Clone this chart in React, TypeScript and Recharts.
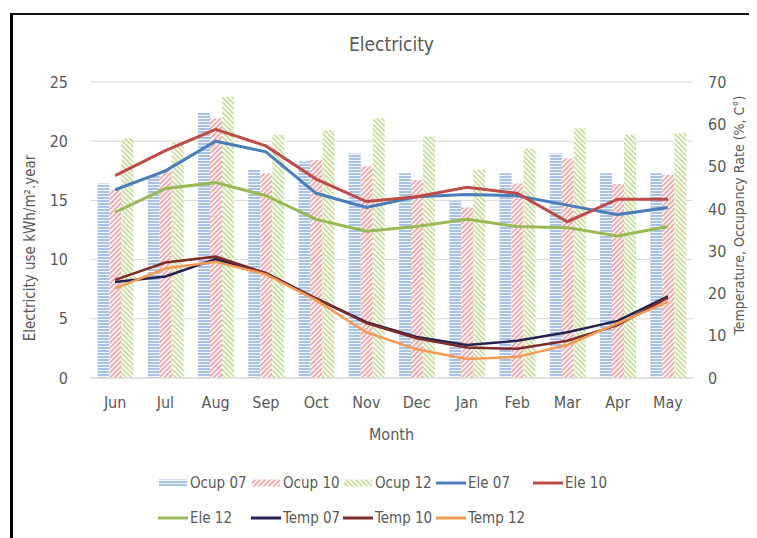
import React from "react";
import { ComposedChart, Bar, Line, XAxis, YAxis, CartesianGrid, Legend } from "recharts";

const months = ["Jun", "Jul", "Aug", "Sep", "Oct", "Nov", "Dec", "Jan", "Feb", "Mar", "Apr", "May"];

// occupancy rate (%), right axis
const ocup07 = [46.0, 48.0, 62.7, 49.2, 51.2, 53.1, 48.4, 42.0, 48.4, 53.1, 48.4, 48.4];
const ocup10 = [44.5, 49.3, 61.4, 48.4, 51.5, 50.1, 46.8, 40.3, 46.0, 51.9, 45.9, 48.0];
const ocup12 = [56.7, 55.8, 66.5, 57.5, 58.6, 61.4, 57.1, 49.3, 54.3, 59.0, 57.5, 57.9];

// electricity use (kWh/m².year), left axis
const ele07 = [15.9, 17.5, 20.0, 19.1, 15.6, 14.4, 15.3, 15.5, 15.4, 14.6, 13.8, 14.4];
const ele10 = [17.1, 19.2, 21.0, 19.6, 16.8, 14.9, 15.3, 16.1, 15.6, 13.2, 15.1, 15.1];
const ele12 = [14.0, 16.0, 16.5, 15.4, 13.4, 12.4, 12.8, 13.4, 12.8, 12.7, 12.0, 12.8];

// temperature (°C), right axis
const temp07 = [22.7, 24.0, 28.1, 24.8, 18.8, 13.2, 9.7, 7.8, 8.8, 10.8, 13.5, 19.3];
const temp10 = [23.2, 27.3, 28.7, 24.8, 18.8, 13.0, 9.4, 7.2, 6.9, 8.8, 12.5, 19.0];
const temp12 = [21.2, 25.9, 27.5, 24.5, 18.4, 10.8, 6.8, 4.5, 5.0, 7.8, 12.9, 18.0];

const leftTicks = [0, 5, 10, 15, 20, 25];
const rightTicks = [0, 10, 20, 30, 40, 50, 60, 70];

const data = months.map((month, i) => ({
  month,
  ocup07: ocup07[i],
  ocup10: ocup10[i],
  ocup12: ocup12[i],
  ele07: ele07[i],
  ele10: ele10[i],
  ele12: ele12[i],
  temp07: temp07[i],
  temp10: temp10[i],
  temp12: temp12[i],
}));

const FONT = '"Liberation Sans Narrow", "DejaVu Sans Condensed", "Open Sans", sans-serif';
const TEXT = "#595959";
const GRID = "#d9d9d9";

type Item = { name: string; kind: "bar" | "line"; color: string };

const legendItems: Item[] = [
  { name: "Ocup 07", kind: "bar", color: "url(#fillOcup07)" },
  { name: "Ocup 10", kind: "bar", color: "url(#fillOcup10)" },
  { name: "Ocup 12", kind: "bar", color: "url(#fillOcup12)" },
  { name: "Ele 07", kind: "line", color: "#4a7ebb" },
  { name: "Ele 10", kind: "line", color: "#be4b48" },
  { name: "Ele 12", kind: "line", color: "#98b954" },
  { name: "Temp 07", kind: "line", color: "#24224f" },
  { name: "Temp 10", kind: "line", color: "#7d2b2b" },
  { name: "Temp 12", kind: "line", color: "#f59a52" },
];

function LegendGrid() {
  return (
    <div
      style={{
        display: "grid",
        gridTemplateColumns: "93px 92px 93px 97px 100px",
        rowGap: 14,
        fontFamily: FONT,
        fontSize: 15,
        color: TEXT,
        whiteSpace: "nowrap",
      }}
    >
      {legendItems.map((it) => (
        <div key={it.name} style={{ display: "flex", alignItems: "center", height: 21 }}>
          <svg width={30} height={10} style={{ marginRight: 2, flex: "none" }}>
            {it.kind === "bar" ? (
              <rect x={1} y={1.5} width={28} height={7} fill={it.color} />
            ) : (
              <line x1={0} y1={5} x2={30} y2={5} stroke={it.color} strokeWidth={3} />
            )}
          </svg>
          <span>{it.name}</span>
        </div>
      ))}
    </div>
  );
}

function LeftTitle(props: any) {
  const vb = props.viewBox;
  const x = vb.x + 22;
  const y = vb.y + vb.height / 2 + 18;
  return (
    <text x={x} y={y} transform={`rotate(-90 ${x} ${y})`} textAnchor="middle" dominantBaseline="central"
      fill={TEXT} fontSize={15} fontFamily={FONT}>
      Electricity use kWh/m².year
    </text>
  );
}

function RightTitle(props: any) {
  const vb = props.viewBox;
  const x = vb.x + 46;
  const y = vb.y + vb.height / 2 - 15;
  return (
    <text x={x} y={y} transform={`rotate(-90 ${x} ${y})`} textAnchor="middle" dominantBaseline="central"
      fill={TEXT} fontSize={14} fontFamily={FONT}>
      Temperature, Occupancy Rate (%, C°)
    </text>
  );
}

const tickStyle = { fill: TEXT, fontSize: 16, fontFamily: FONT };

export default function App() {
  return (
    <div style={{ position: "relative", width: 741, height: 530, background: "#fff" }}>
      <div
        style={{
          position: "absolute",
          left: 2,
          top: 5,
          width: 743,
          height: 525,
          borderLeft: "3px solid #000",
          borderTop: "2px solid #111",
          boxSizing: "border-box",
        }}
      />
      <div
        style={{
          position: "absolute",
          left: 82,
          width: 603,
          top: 25,
          textAlign: "center",
          fontFamily: FONT,
          fontSize: 19,
          color: TEXT,
        }}
      >
        Electricity
      </div>
      <ComposedChart
        width={741}
        height={530}
        data={data}
        margin={{ top: 74, right: 0, bottom: 98, left: 0 }}
        barCategoryGap="15%"
        barGap={0}
      >
        <defs>
          <pattern id="fillOcup07" patternUnits="userSpaceOnUse" width={9} height={3}>
            <rect width={9} height={3} fill="#f4f7fc" />
            <rect width={9} height={2} fill="#a9c1e5" />
          </pattern>
          <pattern id="fillOcup10" patternUnits="userSpaceOnUse" width={3.5} height={3.5} patternTransform="rotate(45)">
            <rect width={3.5} height={3.5} fill="#fdf5f5" />
            <rect width={1.6} height={3.5} fill="#eba2a2" />
          </pattern>
          <pattern id="fillOcup12" patternUnits="userSpaceOnUse" width={3.5} height={3.5} patternTransform="rotate(-45)">
            <rect width={3.5} height={3.5} fill="#f9fbf3" />
            <rect width={1.6} height={3.5} fill="#c6dc9e" />
          </pattern>
        </defs>
        <CartesianGrid yAxisId="left" vertical={false} stroke={GRID} />
        <XAxis
          dataKey="month"
          height={62}
          axisLine={{ stroke: GRID }}
          tickLine={false}
          tickMargin={13}
          tick={tickStyle}
          label={{ value: "Month", position: "insideBottom", offset: 0, fill: TEXT, fontSize: 16, fontFamily: FONT }}
        />
        <YAxis
          yAxisId="left"
          width={82}
          domain={[0, 25]}
          ticks={leftTicks}
          axisLine={false}
          tickLine={false}
          tickMargin={16}
          tick={tickStyle}
          label={(p: any) => <LeftTitle {...p} />}
        />
        <YAxis
          yAxisId="right"
          orientation="right"
          width={56}
          domain={[0, 70]}
          ticks={rightTicks}
          axisLine={false}
          tickLine={false}
          tickMargin={9}
          tick={tickStyle}
          label={(p: any) => <RightTitle {...p} />}
        />
        <Legend
          layout="horizontal"
          verticalAlign="middle"
          align="center"
          wrapperStyle={{ top: 464, left: 150, width: 480 }}
          content={() => <LegendGrid />}
        />
        <Bar yAxisId="right" dataKey="ocup07" name="Ocup 07" fill="url(#fillOcup07)" isAnimationActive={false} />
        <Bar yAxisId="right" dataKey="ocup10" name="Ocup 10" fill="url(#fillOcup10)" isAnimationActive={false} />
        <Bar yAxisId="right" dataKey="ocup12" name="Ocup 12" fill="url(#fillOcup12)" isAnimationActive={false} />
        <Line yAxisId="left" dataKey="ele07" name="Ele 07" stroke="#4a7ebb" strokeWidth={3} dot={false} isAnimationActive={false} />
        <Line yAxisId="left" dataKey="ele10" name="Ele 10" stroke="#be4b48" strokeWidth={3} dot={false} isAnimationActive={false} />
        <Line yAxisId="left" dataKey="ele12" name="Ele 12" stroke="#98b954" strokeWidth={3} dot={false} isAnimationActive={false} />
        <Line yAxisId="right" dataKey="temp07" name="Temp 07" stroke="#24224f" strokeWidth={2.5} dot={false} isAnimationActive={false} />
        <Line yAxisId="right" dataKey="temp10" name="Temp 10" stroke="#7d2b2b" strokeWidth={2.5} dot={false} isAnimationActive={false} />
        <Line yAxisId="right" dataKey="temp12" name="Temp 12" stroke="#f59a52" strokeWidth={2.5} dot={false} isAnimationActive={false} />
      </ComposedChart>
    </div>
  );
}
